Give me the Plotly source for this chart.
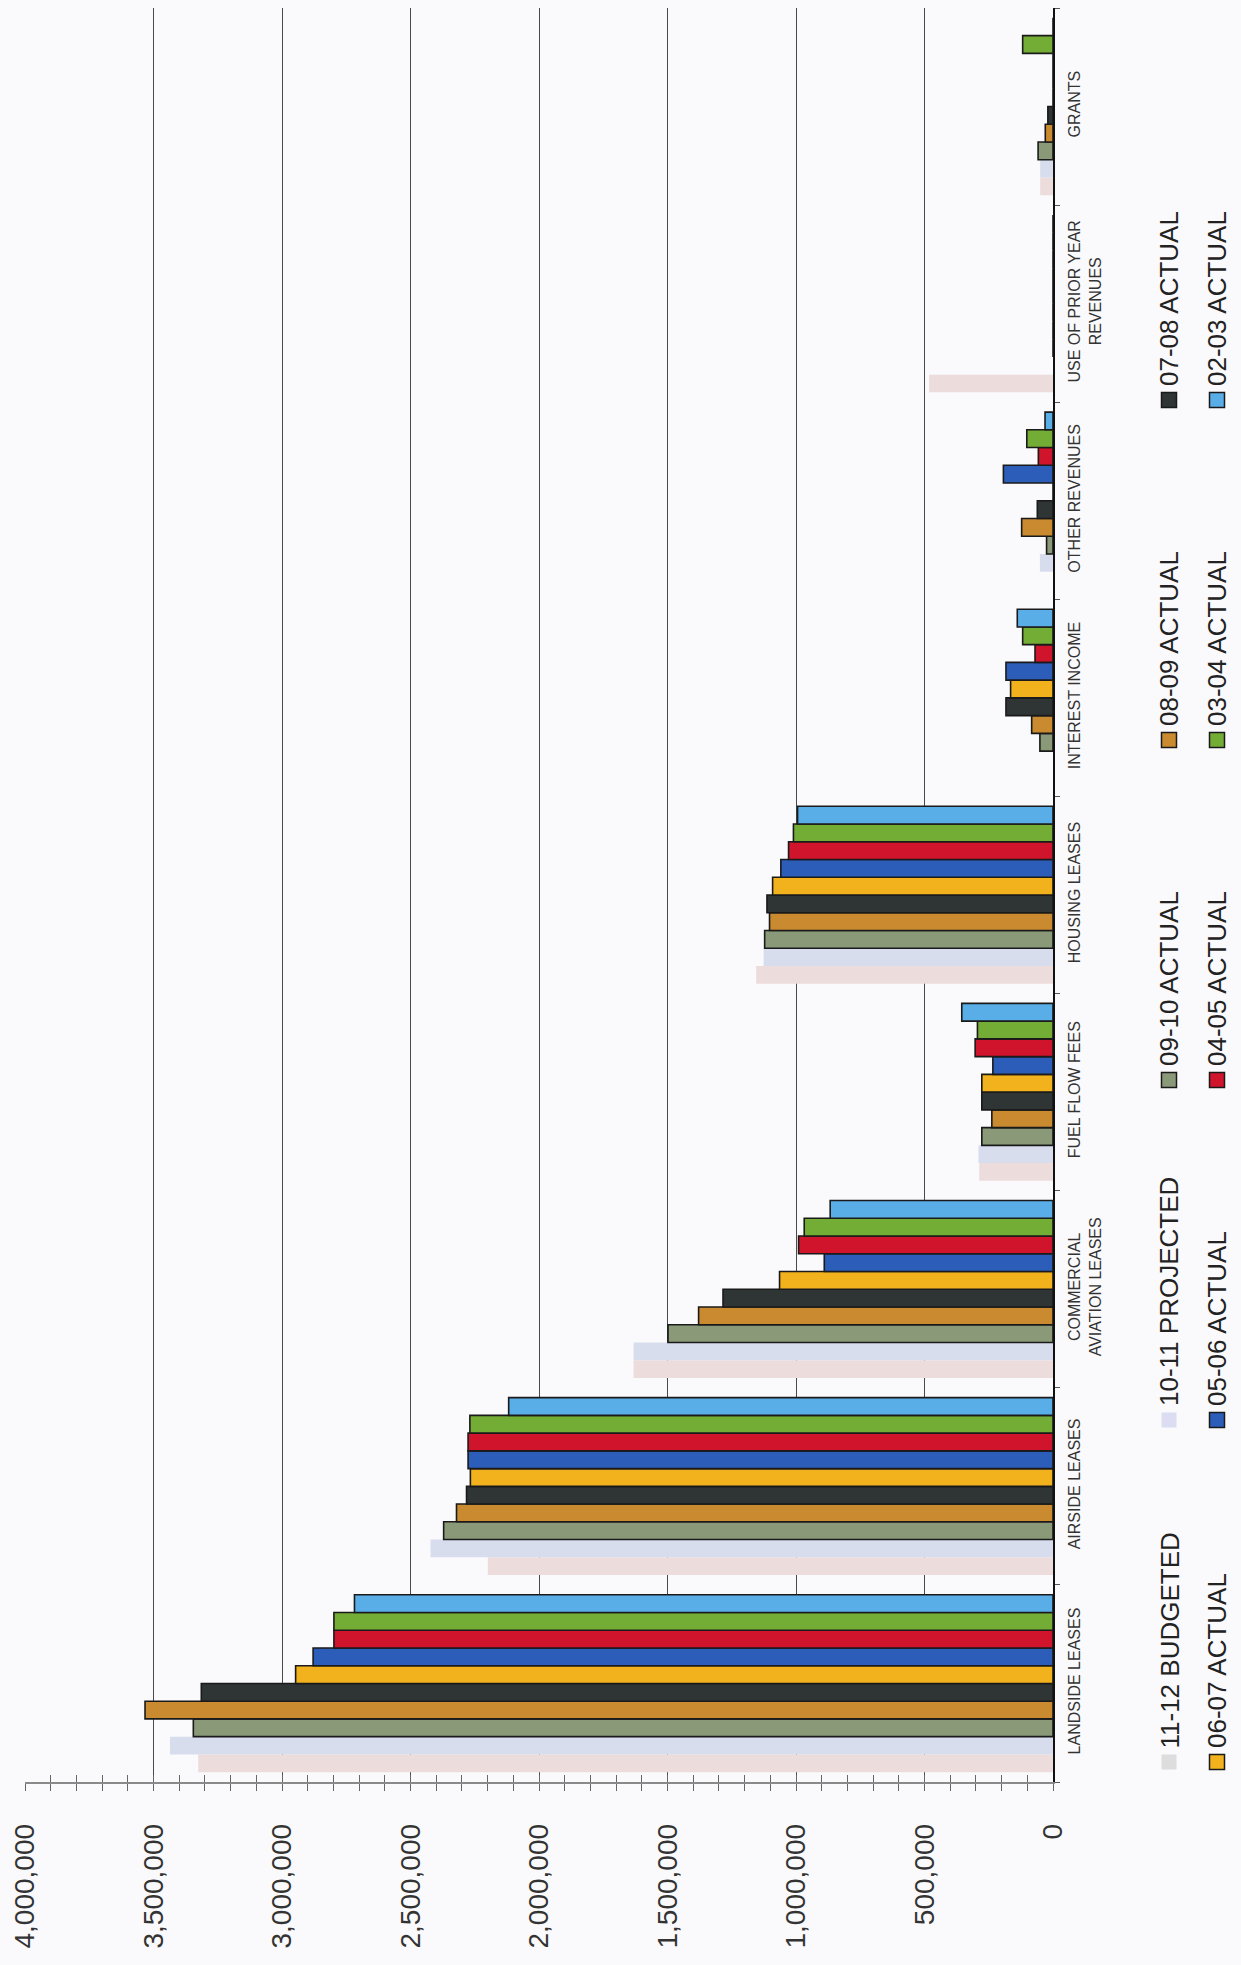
import plotly.graph_objects as go

# ---------------- data ----------------
categories = [
    "LANDSIDE LEASES",
    "AIRSIDE LEASES",
    "COMMERCIAL<br>AVIATION LEASES",
    "FUEL FLOW FEES",
    "HOUSING LEASES",
    "INTEREST INCOME",
    "OTHER REVENUES",
    "USE OF PRIOR YEAR<br>REVENUES",
    "GRANTS",
]

series_names = [
    "11-12 BUDGETED", "10-11 PROJECTED", "09-10 ACTUAL", "08-09 ACTUAL", "07-08 ACTUAL",
    "06-07 ACTUAL", "05-06 ACTUAL", "04-05 ACTUAL", "03-04 ACTUAL", "02-03 ACTUAL",
]

budget_11_12 = [3326000, 2199000, 1632000, 287000, 1155000, 0, 0, 482000, 50000]
projected_10_11 = [3436000, 2422000, 1632000, 290000, 1126000, 0, 51000, 0, 50000]
actual_09_10 = [3345000, 2371000, 1498000, 277000, 1122000, 51000, 25000, 0, 58000]
actual_08_09 = [3533000, 2321000, 1379000, 238000, 1103000, 83000, 122000, 0, 30000]
actual_07_08 = [3314000, 2282000, 1284000, 277000, 1113000, 183000, 61000, 0, 20000]
actual_06_07 = [2947000, 2267000, 1064000, 277000, 1091000, 165000, 0, 0, 0]
actual_05_06 = [2879000, 2276000, 890000, 234000, 1059000, 183000, 193000, 0, 0]
actual_04_05 = [2798000, 2276000, 990000, 303000, 1029000, 70000, 57000, 0, 0]
actual_03_04 = [2798000, 2269000, 968000, 294000, 1010000, 118000, 102000, 0, 118000]
actual_02_03 = [2718000, 2118000, 867000, 355000, 994000, 139000, 31000, 0, 0]

series_values = [
    budget_11_12, projected_10_11, actual_09_10, actual_08_09, actual_07_08,
    actual_06_07, actual_05_06, actual_04_05, actual_03_04, actual_02_03,
]

value_ticks = [0, 500000, 1000000, 1500000, 2000000, 2500000, 3000000, 3500000, 4000000]
value_range = [4000000, 0]

# ---------------- styles ----------------
colors = ["#ecdcdc", "#d8ddee", "#8a9a78", "#c98a30", "#2f3535",
          "#f2b21e", "#2c5db8", "#d0142c", "#74ad36", "#5aaee8"]
legend_marker_colors = ["#dddddd", "#dcdcf2"] + colors[2:]
outlined = [False, False] + [True] * 8

W, H = 1241, 1965
ML, MR, MT, MB = 25, 188, 8, 183
PW, PH = W - ML - MR, H - MT - MB

fig = go.Figure()
for name, vals, col, ol in zip(series_names, series_values, colors, outlined):
    fig.add_trace(go.Bar(
        y=categories, x=vals, name=name, orientation="h",
        marker=dict(color=col,
                    line=dict(color="#1a1a1a", width=1.6 if ol else 0)),
        showlegend=False,
    ))

# empty helper trace so the overlay axis (inner tick marks) is drawn
fig.add_trace(go.Scatter(x=[], y=[], xaxis="x2", yaxis="y", showlegend=False, hoverinfo="skip"))

TICK_FONT = "Liberation Sans, Arial, sans-serif"
CAT_FONT = "Liberation Sans Narrow, Arial Narrow, Liberation Sans, sans-serif"

fig.update_layout(
    width=W, height=H,
    margin=dict(l=ML, r=MR, t=MT, b=MB, pad=0),
    barmode="group", bargap=0.1, bargroupgap=0,
    paper_bgcolor="#fafafc", plot_bgcolor="#fafafc",
    xaxis=dict(
        range=value_range, tickvals=value_ticks, tickformat=",d",
        tickangle=-90, tickfont=dict(family=TICK_FONT, size=28, color="#333"),
        showgrid=True, gridcolor="#4a4a4a", gridwidth=1.2,
        zeroline=False, showline=True, linecolor="#8a8a8a", linewidth=1.5,
        ticks="outside", ticklen=7, tickcolor="#666", tickwidth=1.2,
        minor=dict(dtick=100000, ticks="outside", ticklen=7, tickcolor="#666", tickwidth=1.2),
        ticklabelstandoff=22,
        fixedrange=True,
    ),
    xaxis2=dict(
        overlaying="x", anchor="y", side="bottom",
        range=value_range, tickvals=value_ticks, showticklabels=False,
        showgrid=False, zeroline=False, showline=False,
        ticks="inside", ticklen=7, tickcolor="#666", tickwidth=1.2,
        minor=dict(dtick=100000, ticks="inside", ticklen=7, tickcolor="#666", tickwidth=1.2),
        fixedrange=True,
    ),
    yaxis=dict(
        side="right", type="category", tickangle=-90,
        tickfont=dict(family=CAT_FONT, size=16, color="#333"),
        showgrid=False, zeroline=False, showline=True, linecolor="#111", linewidth=1.5,
        ticks="outside", tickson="boundaries", ticklen=5, tickcolor="#555",
        ticklabelstandoff=6,
        fixedrange=True,
    ),
)

# ---------------- rotated legend (annotations + marker shapes) ----------------
def px_x(px):
    return (px - ML) / PW

def px_y(py):
    return (H - MB - py) / PH

legend_cols_x = [1169, 1217]
legend_rows_y = [1762, 1420, 1080, 740, 400]
SQ = 15
for i, name in enumerate(series_names):
    col = i // 5
    row = i % 5
    cx = legend_cols_x[col]
    cy = legend_rows_y[row]
    fig.add_shape(
        type="rect", xref="paper", yref="paper",
        x0=px_x(cx - SQ / 2), x1=px_x(cx + SQ / 2),
        y0=px_y(cy + SQ / 2), y1=px_y(cy - SQ / 2),
        fillcolor=legend_marker_colors[i],
        line=dict(color="#1a1a1a", width=1.5 if outlined[i] else 0),
    )
    fig.add_annotation(
        xref="paper", yref="paper", x=px_x(cx), y=px_y(cy - SQ / 2 - 4),
        text=name, textangle=-90, showarrow=False,
        xanchor="center", yanchor="bottom",
        font=dict(family=TICK_FONT, size=26, color="#222"),
    )

fig.write_html("out.html")
